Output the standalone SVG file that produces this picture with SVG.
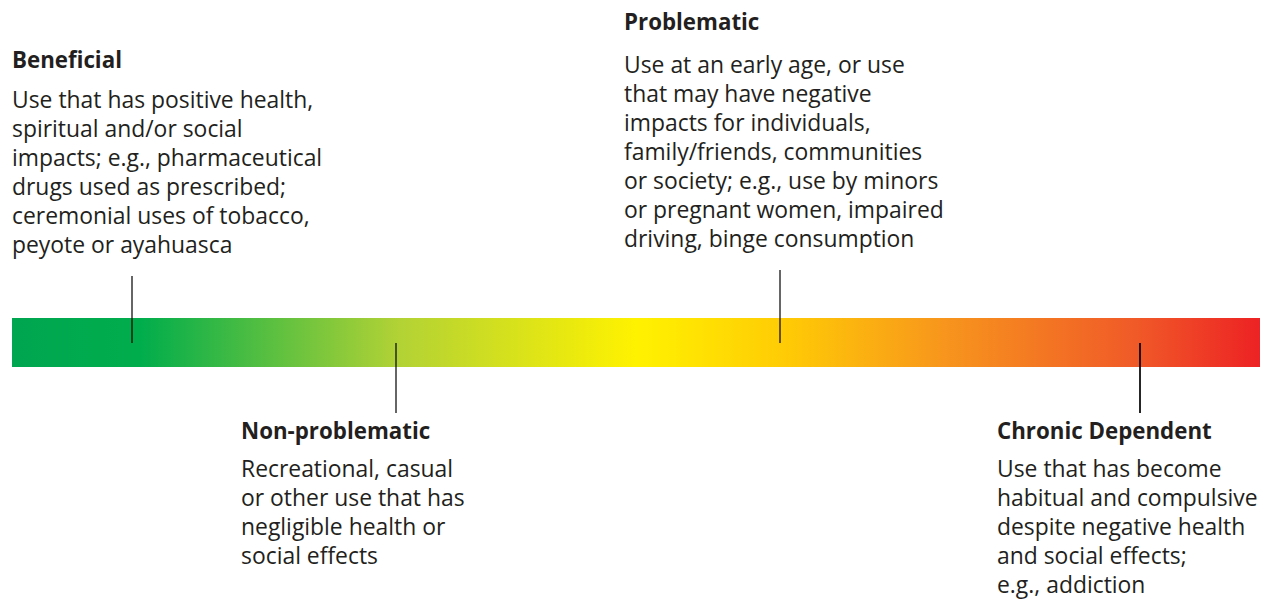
<svg xmlns="http://www.w3.org/2000/svg" width="1266" height="600" viewBox="0 0 1266 600">
<style>
text{font-family:"Open Sans","Liberation Sans",sans-serif;fill:#231f20;font-size:22.9px}
.h{font-weight:bold;font-size:22.3px}
.ln{stroke:#000;stroke-opacity:0.6;stroke-width:2}
</style>
<defs>
<linearGradient id="g" x1="12" y1="0" x2="1260" y2="0" gradientUnits="userSpaceOnUse">
<stop offset="0" stop-color="#00a650"/>
<stop offset="0.103" stop-color="#00ad4c"/>
<stop offset="0.31" stop-color="#b2d235"/>
<stop offset="0.50" stop-color="#fff200"/>
<stop offset="0.62" stop-color="#ffcb05"/>
<stop offset="0.75" stop-color="#f7941d"/>
<stop offset="0.90" stop-color="#f05a28"/>
<stop offset="1" stop-color="#ed2224"/>
</linearGradient>
</defs>
<rect id="bar" x="12" y="318" width="1248" height="49" fill="url(#g)"/>
<g id="connectors">
<line class="ln" x1="132" y1="276" x2="132" y2="343"/>
<line class="ln" x1="396" y1="343" x2="396" y2="413"/>
<line class="ln" x1="780" y1="270" x2="780" y2="343"/>
<line class="ln" x1="1140" y1="343" x2="1140" y2="413" style="stroke-opacity:0.85"/>
</g>
<g id="beneficial">
<text class="h" x="12" y="68">Beneficial</text>
<text x="12" y="108">Use that has positive health,</text>
<text x="12" y="137">spiritual and/or social</text>
<text x="12" y="166">impacts; e.g., pharmaceutical</text>
<text x="12" y="195">drugs used as prescribed;</text>
<text x="12" y="224">ceremonial uses of tobacco,</text>
<text x="12" y="253">peyote or ayahuasca</text>
</g>
<g id="problematic">
<text class="h" x="624" y="30">Problematic</text>
<text x="624" y="73">Use at an early age, or use</text>
<text x="624" y="102">that may have negative</text>
<text x="624" y="131">impacts for individuals,</text>
<text x="624" y="160">family/friends, communities</text>
<text x="624" y="189">or society; e.g., use by minors</text>
<text x="624" y="218">or pregnant women, impaired</text>
<text x="624" y="247">driving, binge consumption</text>
</g>
<g id="nonproblematic">
<text class="h" x="241" y="439">Non-problematic</text>
<text x="241" y="477">Recreational, casual</text>
<text x="241" y="506">or other use that has</text>
<text x="241" y="535">negligible health or</text>
<text x="241" y="564">social effects</text>
</g>
<g id="chronic">
<text class="h" x="997" y="439">Chronic Dependent</text>
<text x="997" y="477">Use that has become</text>
<text x="997" y="506">habitual and compulsive</text>
<text x="997" y="535">despite negative health</text>
<text x="997" y="564">and social effects;</text>
<text x="997" y="593">e.g., addiction</text>
</g>
</svg>
